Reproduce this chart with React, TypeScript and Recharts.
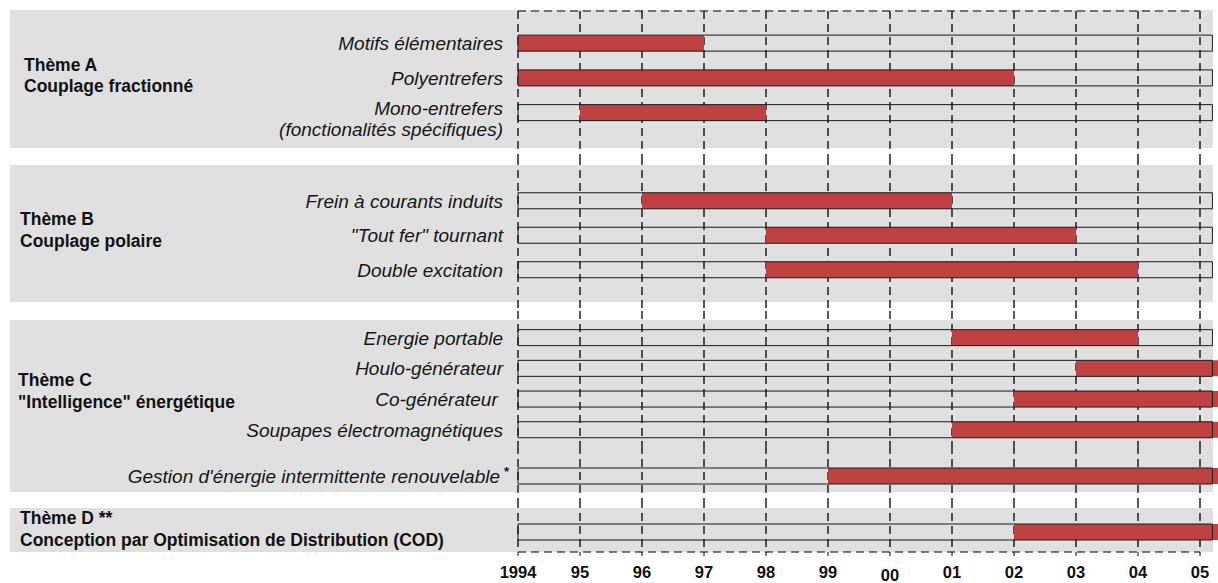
import { BarChart, Bar, XAxis, YAxis, CartesianGrid } from 'recharts'

// Timeline (years)
const YEARS = [1994, 1995, 1996, 1997, 1998, 1999, 2000, 2001, 2002, 2003, 2004, 2005]
const YEAR_LABELS = ['1994', '95', '96', '97', '98', '99', '00', '01', '02', '03', '04', '05']
const FRAME_END = 2005.2 // end of the empty frame drawn on each row
const ONGOING = 2005.4 // still running after 2005

// Themes
const THEME_TITLES = ['Thème A', 'Thème B', 'Thème C', 'Thème D **']
const THEME_SUBTITLES = [
  'Couplage fractionné',
  'Couplage polaire',
  '"Intelligence" énergétique',
  'Conception par Optimisation de Distribution (COD)',
]

// Rows per theme
const themeALabels = ['Motifs élémentaires', 'Polyentrefers', 'Mono-entrefers\n(fonctionalités spécifiques)']
const themeAStart = [1994, 1994, 1995]
const themeAEnd = [1997, 2002, 1998]

const themeBLabels = ['Frein à courants induits', '"Tout fer" tournant', 'Double excitation']
const themeBStart = [1996, 1998, 1998]
const themeBEnd = [2001, 2003, 2004]

const themeCLabels = ['Energie portable', 'Houlo-générateur', 'Co-générateur\u00a0', 'Soupapes électromagnétiques']
const themeCStart = [2001, 2003, 2002, 2001]
const themeCEnd = [2004, ONGOING, ONGOING, ONGOING]

const themeC2Labels = ["Gestion d'énergie intermittente renouvelable *"]
const themeC2Start = [1999]
const themeC2End = [ONGOING]

const themeDLabels = ['']
const themeDStart = [2002]
const themeDEnd = [ONGOING]

// layout
const PAGE_W = 1218
const PAGE_H = 583
const PLOT_LEFT = 518
const PLOT_RIGHT = 1200
const PX_PER_YEAR = (PLOT_RIGHT - PLOT_LEFT) / (YEARS[YEARS.length - 1] - YEARS[0])
const FONT = "'Liberation Sans', Arial, Helvetica, sans-serif"
const RED = '#c04141'
const BAND = '#e0e0e0'
const DASH = '8 5'

const BANDS = [
  { top: 10, bottom: 148 },
  { top: 165, bottom: 302 },
  { top: 320, bottom: 492 },
  { top: 508, bottom: 552 },
]

const TITLE_POS = [
  { x: 24, y1: 71, y2: 92 },
  { x: 20, y1: 225, y2: 247 },
  { x: 18, y1: 386, y2: 408 },
  { x: 20, y1: 524, y2: 546 },
]

type Layout = {
  top: number
  plotTop: number
  plotBottom: number
  bottom: number
  first: number
  step: number
  axis: 'top' | 'bottom' | 'none'
}

const GROUPS: { labels: string[]; starts: number[]; ends: number[] }[] = [
  { labels: themeALabels, starts: themeAStart, ends: themeAEnd },
  { labels: themeBLabels, starts: themeBStart, ends: themeBEnd },
  { labels: themeCLabels, starts: themeCStart, ends: themeCEnd },
  { labels: themeC2Labels, starts: themeC2Start, ends: themeC2End },
  { labels: themeDLabels, starts: themeDStart, ends: themeDEnd },
]

const LAYOUTS: Layout[] = [
  { top: 0, plotTop: 11, plotBottom: 157, bottom: 157, first: 43.5, step: 34.75, axis: 'top' },
  { top: 157, plotTop: 157, plotBottom: 311, bottom: 311, first: 201, step: 34.5, axis: 'none' },
  { top: 311, plotTop: 311, plotBottom: 446, bottom: 446, first: 338, step: 30.7, axis: 'none' },
  { top: 446, plotTop: 446, plotBottom: 500, bottom: 500, first: 476, step: 40, axis: 'none' },
  { top: 500, plotTop: 500, plotBottom: 552, bottom: PAGE_H, first: 532, step: 30, axis: 'bottom' },
]

function RowTick(props: any) {
  const { x, y, payload } = props
  const label: string = payload?.value ?? ''
  if (!label) return null
  const style = { fontFamily: FONT, fontStyle: 'italic', fontSize: 19, fill: '#161616' }
  if (label.includes('\n')) {
    const lines = label.split('\n')
    return (
      <g>
        {lines.map((line, i) => (
          <text key={i} x={x} y={y - 5 + i * 21} textAnchor='end' dominantBaseline='central' style={style}>
            {line}
          </text>
        ))}
      </g>
    )
  }
  if (label.endsWith(' *')) {
    return (
      <g>
        <text x={x - 3} y={y} textAnchor='end' dominantBaseline='central' style={style}>
          {label.slice(0, -2)}
        </text>
        <text x={x + 1} y={y - 5} dominantBaseline='central' style={{ ...style, fontStyle: 'normal', fontWeight: 'bold', fontSize: 13 }}>
          *
        </text>
      </g>
    )
  }
  return (
    <text x={x} y={y} textAnchor='end' dominantBaseline='central' style={style}>
      {label}
    </text>
  )
}

function YearTick(props: any) {
  const { x, y, payload } = props
  const idx = YEARS.indexOf(payload?.value)
  const text = idx >= 0 ? YEAR_LABELS[idx] : ''
  const drop = text === '00' ? 3 : 0
  return (
    <text
      x={x}
      y={y + 22 + drop}
      textAnchor='middle'
      style={{ fontFamily: FONT, fontWeight: 'bold', fontSize: 16.5, fill: '#111' }}
    >
      {text}
    </text>
  )
}

// gridlines at every year (uses the axis scale when it is handed over)
const yearGrid = (args: any) => {
  const scale = args?.xAxis?.scale
  if (typeof scale === 'function') return YEARS.map((yr) => scale(yr))
  const left = args?.offset?.left ?? PLOT_LEFT
  return YEARS.map((yr) => left + (yr - YEARS[0]) * PX_PER_YEAR)
}

function Timeline({ labels, starts, ends, layout }: { labels: string[]; starts: number[]; ends: number[]; layout: Layout }) {
  const { top, plotTop, plotBottom, bottom, first, step, axis } = layout
  const n = labels.length
  const rows = labels.map((label, i) => ({
    label,
    span: [starts[i], ends[i]],
    frame: [YEARS[0], FRAME_END],
  }))

  const padTop = first - plotTop - step / 2
  const padBottom = plotBottom - (first + (n - 0.5) * step)
  const axisHeight = axis === 'top' ? plotTop - top : axis === 'bottom' ? bottom - plotBottom : 0
  const padRight = -(ONGOING - YEARS[YEARS.length - 1]) * PX_PER_YEAR

  return (
    <div style={{ position: 'absolute', left: 0, top }}>
      <BarChart
        width={PAGE_W}
        height={bottom - top}
        data={rows}
        layout='vertical'
        margin={{ top: 0, right: PAGE_W - PLOT_RIGHT, bottom: 0, left: 0 }}
        barSize={16}
        barGap={-16}
      >
        <CartesianGrid
          horizontal={false}
          vertical
          stroke='#000'
          strokeWidth={1.3}
          strokeDasharray={DASH}
          verticalCoordinatesGenerator={yearGrid}
        />
        <XAxis
          type='number'
          domain={[YEARS[0], ONGOING]}
          ticks={YEARS}
          padding={{ left: 0, right: padRight }}
          hide={axis === 'none'}
          orientation={axis === 'top' ? 'top' : 'bottom'}
          height={axisHeight || 1}
          axisLine={{ stroke: '#000', strokeDasharray: DASH }}
          tickLine={axis === 'bottom' ? { stroke: '#000' } : false}
          tickSize={axis === 'bottom' ? 4 : 0}
          tickMargin={0}
          tick={axis === 'bottom' ? <YearTick /> : false}
          interval={0}
        />
        <YAxis
          type='category'
          dataKey='label'
          width={PLOT_LEFT}
          padding={{ top: padTop, bottom: padBottom }}
          axisLine={false}
          tickLine={false}
          tickSize={0}
          tickMargin={15}
          interval={0}
          tick={<RowTick />}
        />
        <Bar dataKey='span' fill={RED} isAnimationActive={false} />
        <Bar dataKey='frame' fill='none' stroke='#1a1a1a' strokeWidth={1} isAnimationActive={false} />
      </BarChart>
    </div>
  )
}

export default function App() {
  return (
    <div
      style={{
        position: 'absolute',
        left: 0,
        top: 0,
        width: PAGE_W,
        height: PAGE_H,
        overflow: 'hidden',
        background: '#fff',
        fontFamily: FONT,
      }}
    >
      {BANDS.map((b, i) => (
        <div
          key={i}
          style={{ position: 'absolute', left: 10, width: 1203, top: b.top, height: b.bottom - b.top, background: BAND }}
        />
      ))}
      {GROUPS.map((g, i) => (
        <Timeline key={i} labels={g.labels} starts={g.starts} ends={g.ends} layout={LAYOUTS[i]} />
      ))}
      <svg width={PAGE_W} height={PAGE_H} style={{ position: 'absolute', left: 0, top: 0, pointerEvents: 'none' }}>
        {THEME_TITLES.map((title, i) => (
          <g key={i} style={{ fontFamily: FONT, fontWeight: 'bold', fontSize: 17.5, fill: '#111' }}>
            <text x={TITLE_POS[i].x} y={TITLE_POS[i].y1}>{title}</text>
            <text x={TITLE_POS[i].x} y={TITLE_POS[i].y2}>{THEME_SUBTITLES[i]}</text>
          </g>
        ))}
      </svg>
    </div>
  )
}
